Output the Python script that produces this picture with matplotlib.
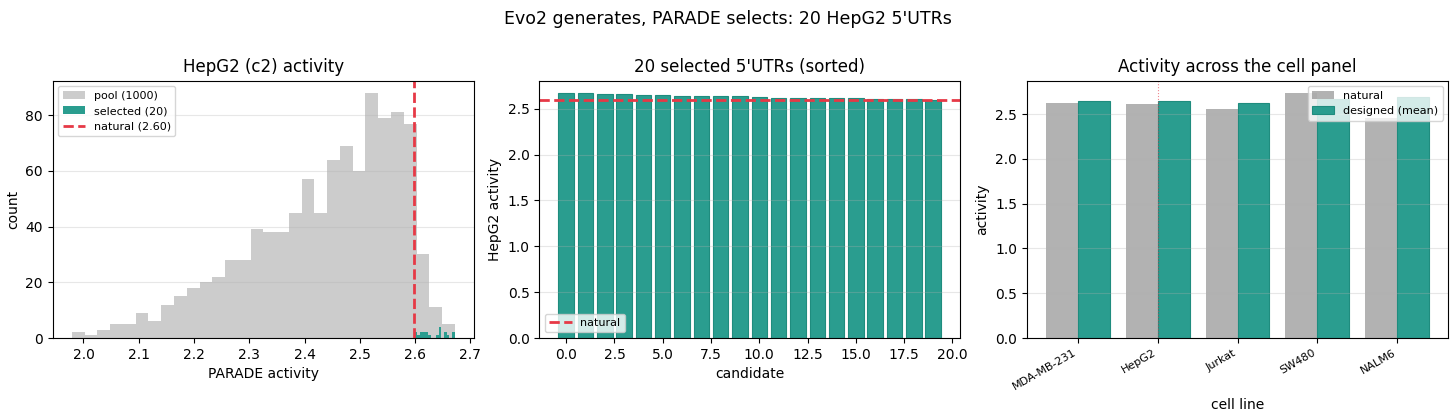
import numpy as np
import matplotlib
matplotlib.use("Agg")
import matplotlib.pyplot as plt

# ---------------- data ----------------
pool_lo, pool_hi, pool_nbins = 1.979, 2.672, 30
pool_counts = [2, 1, 3, 5, 5, 9, 6, 12, 15, 18, 20, 22, 28, 28, 39, 38, 38, 45,
               57, 45, 64, 69, 60, 88, 79, 81, 77, 30, 11, 5]

selected = [2.672, 2.670, 2.662, 2.657, 2.655, 2.645, 2.644, 2.644, 2.643, 2.638,
            2.626, 2.622, 2.620, 2.616, 2.614, 2.612, 2.610, 2.607, 2.601, 2.599]
natural_hepg2 = 2.598

cell_lines = ["MDA-MB-231", "HepG2", "Jurkat", "SW480", "NALM6"]
natural_act = [2.626, 2.607, 2.556, 2.735, 2.45]
designed_act = [2.645, 2.645, 2.619, 2.667, 2.689]

TEAL = "#2a9d8f"
TEAL_EDGE = "#1f8c7e"
RED = "#e63946"

fig = plt.figure(figsize=(14.56, 4.15), dpi=100)
W, H = 1456, 415
def ax_at(l, r, t=80.7, b=338.0):
    return fig.add_axes([l / W, 1 - b / H, (r - l) / W, (b - t) / H])

ax1 = ax_at(52.7, 474.0)
ax2 = ax_at(539.3, 960.0)
ax3 = ax_at(1026.7, 1448.3)

# ---------------- panel 1 ----------------
edges = np.linspace(pool_lo, pool_hi, pool_nbins + 1)
ax1.hist(edges[:-1], bins=edges, weights=pool_counts, color="gray", alpha=0.4,
         label=f"pool ({sum(pool_counts)})")
ax1.hist(selected, bins=15, color=TEAL, label=f"selected ({len(selected)})")
ax1.axvline(natural_hepg2, color=RED, ls="--", lw=2, label=f"natural ({natural_hepg2:.2f})")
ax1.set_title("HepG2 (c2) activity", fontsize=12)
ax1.set_xlabel("PARADE activity", fontsize=10)
ax1.set_ylabel("count", fontsize=10)
ax1.grid(axis="y", alpha=0.3)
ax1.legend(loc="upper left", fontsize=8)

# ---------------- panel 2 ----------------
idx = np.arange(len(selected))
ax2.bar(idx, selected, color=TEAL, edgecolor=TEAL_EDGE, linewidth=0.8)
ax2.axhline(natural_hepg2, color=RED, ls="--", lw=2, label="natural")
ax2.set_title(f"{len(selected)} selected 5'UTRs (sorted)", fontsize=12)
ax2.set_xlabel("candidate", fontsize=10)
ax2.set_ylabel("HepG2 activity", fontsize=10)
ax2.grid(axis="y", alpha=0.3)
ax2.legend(loc="lower left", fontsize=8)

# ---------------- panel 3 ----------------
x = np.arange(len(cell_lines))
ax3.bar(x - 0.2, natural_act, width=0.4, color="gray", alpha=0.6, label="natural")
ax3.bar(x + 0.2, designed_act, width=0.4, color=TEAL, edgecolor=TEAL_EDGE,
        linewidth=0.8, label="designed (mean)")
ax3.axvline(cell_lines.index("HepG2"), color=RED, ls=":", lw=0.8, alpha=0.6)
ax3.set_xticks(x)
ax3.set_xticklabels(cell_lines, rotation=30, ha="right", fontsize=8)
ax3.set_title("Activity across the cell panel", fontsize=12)
ax3.set_xlabel("cell line", fontsize=10)
ax3.set_ylabel("activity", fontsize=10)
ax3.grid(axis="y", alpha=0.3)
ax3.legend(loc="upper right", fontsize=8)

fig.suptitle("Evo2 generates, PARADE selects: 20 HepG2 5'UTRs", fontsize=12.5, y=0.975)
fig.savefig("out.png", dpi=100)
